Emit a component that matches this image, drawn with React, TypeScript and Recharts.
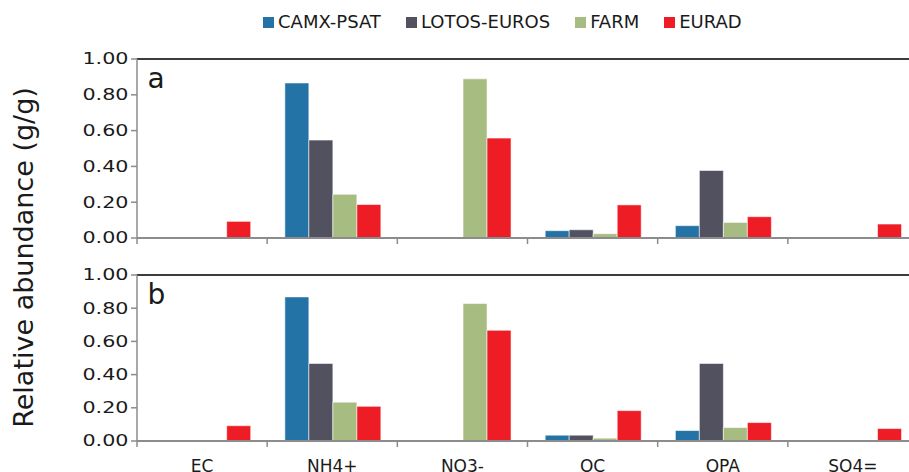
// 상대 기여도 막대 차트 (패널 a / b)

import { Bar, BarChart, ReferenceLine, XAxis, YAxis } from "recharts";

// 카테고리 & 시리즈 값
const categories = ["EC", "NH4+", "NO3-", "OC", "OPA", "SO4="];

const camxA = [0.004, 0.866, 0, 0.041, 0.069, 0];
const lotosA = [0, 0.547, 0, 0.046, 0.377, 0];
const farmA = [0, 0.244, 0.889, 0.024, 0.087, 0];
const euradA = [0.093, 0.187, 0.558, 0.185, 0.119, 0.078];

const camxB = [0.003, 0.868, 0, 0.035, 0.063, 0];
const lotosB = [0, 0.467, 0, 0.035, 0.467, 0];
const farmB = [0, 0.234, 0.828, 0.017, 0.081, 0];
const euradB = [0.092, 0.209, 0.667, 0.183, 0.111, 0.075];

const yTicks = [0, 0.2, 0.4, 0.6, 0.8, 1];

const seriesNames = ["CAMX-PSAT", "LOTOS-EUROS", "FARM", "EURAD"];
const seriesKeys = ["camx", "lotos", "farm", "eurad"];
const seriesColors = ["#2473a6", "#51515f", "#a7bc81", "#ee1c25"];

const buildRows = (vals: number[][]) =>
  categories.map((cat, i) => ({
    cat,
    camx: vals[0][i],
    lotos: vals[1][i],
    farm: vals[2][i],
    eurad: vals[3][i],
  }));

const dataA = buildRows([camxA, lotosA, farmA, euradA]);
const dataB = buildRows([camxB, lotosB, farmB, euradB]);

// 레이아웃 상수
const W = 930;
const PLOT_LEFT = 137;
const PLOT_W = 781;
const Y_W = 70;
const BAND = PLOT_W / categories.length;
const FONT = "'DejaVu Sans', Verdana, sans-serif";
const AXIS_GRAY = "#8c8c8c";

// X축 tick - 카테고리 사이에 눈금
const CatTick = (props: any) => {
  const { x, y, index, payload, showLabel } = props;
  const left = x - BAND / 2;
  return (
    <g>
      <line x1={left} x2={left} y1={y} y2={y + 6} stroke={AXIS_GRAY} strokeWidth={1.5} />
      {index === categories.length - 1 && (
        <line x1={x + BAND / 2} x2={x + BAND / 2} y1={y} y2={y + 6} stroke={AXIS_GRAY} strokeWidth={1.5} />
      )}
      {showLabel && (
        <text x={x} y={y + 30.5} textAnchor="middle" fontSize={17} fontFamily={FONT} fill="#1a1a1a">
          {payload.value}
        </text>
      )}
    </g>
  );
};

// Y축 tick - 가로로 늘어난 숫자
const NumTick = (props: any) => {
  const { x, y, payload } = props;
  return (
    <g transform={`translate(${x},${y}) scale(1.38,1)`}>
      <text x={0} y={0} dy="0.36em" textAnchor="end" fontSize={15} fontFamily={FONT} fill="#1a1a1a">
        {Number(payload.value).toFixed(2)}
      </text>
    </g>
  );
};

const Panel = ({ data, height, top, bottom, xHeight, showLabels }: any) => (
  <BarChart
    width={W}
    height={height}
    data={data}
    margin={{ top, right: W - PLOT_LEFT - PLOT_W, left: PLOT_LEFT - Y_W, bottom }}
    barCategoryGap="13.6%"
    barGap={0}
  >
    <XAxis
      dataKey="cat"
      height={xHeight}
      interval={0}
      tickSize={0}
      tickMargin={0}
      tickLine={false}
      axisLine={{ stroke: AXIS_GRAY, strokeWidth: 2 }}
      tick={(p: any) => <CatTick {...p} showLabel={showLabels} />}
    />
    <YAxis
      width={Y_W}
      domain={[0, 1]}
      ticks={yTicks}
      allowDataOverflow
      tickSize={6}
      tickMargin={2.5}
      axisLine={{ stroke: AXIS_GRAY, strokeWidth: 1.5 }}
      tickLine={{ stroke: AXIS_GRAY, strokeWidth: 1.5 }}
      tick={(p: any) => <NumTick {...p} />}
    />
    <ReferenceLine y={1} stroke="#3c3c3c" strokeWidth={2} />
    {seriesKeys.map((k, i) => (
      <Bar
        key={k}
        dataKey={k}
        name={seriesNames[i]}
        fill={seriesColors[i]}
        stroke="rgba(255,255,255,0.55)"
        strokeWidth={1}
        isAnimationActive={false}
      />
    ))}
  </BarChart>
);

export default function App() {
  return (
    <div
      style={{
        position: "fixed",
        top: 0,
        left: 0,
        width: 909,
        height: 472,
        overflow: "hidden",
        background: "#fff",
      }}
    >
      {/* 범례 */}
      <div
        style={{
          position: "absolute",
          top: 11,
          left: 263,
          display: "flex",
          alignItems: "center",
          height: 22,
          lineHeight: "22px",
          fontFamily: FONT,
          fontSize: 18,
          color: "#1a1a1a",
          whiteSpace: "nowrap",
        }}
      >
        {seriesNames.map((n, i) => (
          <div key={n} style={{ display: "flex", alignItems: "center", marginRight: 25 }}>
            <span style={{ width: 11, height: 11, background: seriesColors[i], marginRight: 4 }} />
            <span>{n}</span>
          </div>
        ))}
      </div>

      {/* 패널 a */}
      <div style={{ position: "absolute", top: 0, left: 0 }}>
        <Panel data={dataA} height={250} top={59} bottom={2} xHeight={10} showLabels={false} />
      </div>

      {/* 패널 b */}
      <div style={{ position: "absolute", top: 250, left: 0 }}>
        <Panel data={dataB} height={222} top={25} bottom={1} xHeight={30} showLabels />
      </div>

      {/* 축 제목 & 패널 라벨 */}
      <svg
        width={909}
        height={472}
        style={{ position: "absolute", top: 0, left: 0, pointerEvents: "none" }}
      >
        <text
          transform="translate(33,257.5) rotate(-90)"
          textAnchor="middle"
          fontSize={27}
          fontFamily={FONT}
          fill="#1a1a1a"
        >
          Relative abundance (g/g)
        </text>
        <text x={147.5} y={88} fontSize={28} fontFamily={FONT} fill="#1a1a1a">
          a
        </text>
        <text x={147.5} y={303.5} fontSize={28} fontFamily={FONT} fill="#1a1a1a">
          b
        </text>
      </svg>
    </div>
  );
}
